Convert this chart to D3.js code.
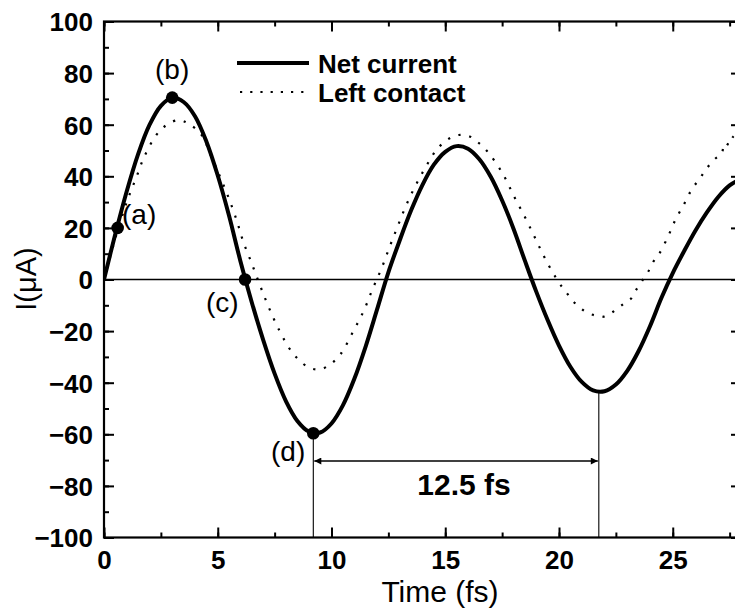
<!DOCTYPE html>
<html>
<head>
<meta charset="utf-8">
<script src="https://cdn.jsdelivr.net/npm/d3@7/dist/d3.min.js"></script>
<style>
  html, body { margin: 0; padding: 0; background: #fff; }
  svg { display: block; }
  text { font-family: "Liberation Sans", Arial, sans-serif; fill: #000; }
</style>
</head>
<body>
<svg id="chart" width="735" height="611"></svg>
<script>
// ---- data ----
const netTime = [0,0.5,1,1.5,2,2.5,3,3.5,4,4.5,5,5.5,6,6.5,7,7.5,8,8.5,9,9.5,10,10.5,11,11.5,12,12.5,13,13.5,14,14.5,15,15.5,16,16.5,17,17.5,18,18.5,19,19.5,20,20.5,21,21.5,22,22.5,23,23.5,24,24.5,25,25.5,26,26.5,27,27.5,28];
const netCurrent = [0,17.7,34.2,48.6,59.9,67.3,70.5,68.8,63.3,53.5,40.3,24.6,7,-9,-23.5,-36.5,-47.2,-54.8,-58.9,-59.3,-55.8,-48.8,-38.6,-26,-11.7,2.8,15.2,26.8,36.7,44.5,49.5,51.7,50.7,46.6,39.8,30.6,19.7,7.3,-4.7,-15.7,-25.6,-33.8,-39.7,-43,-43.3,-40.7,-35.4,-27.7,-18.1,-7.2,2.5,11,19,26,32,36.5,39];

const leftTime = [0,0.5,1.0,1.43,1.77,2.3,2.75,3.27,3.7,4.29,4.7,5.1,5.46,5.83,6.12,6.49,6.85,7.22,7.66,8.17,8.54,9.02,9.52,10.0,10.4,10.95,11.42,11.8,12.2,12.57,12.93,13.32,13.77,14.32,14.64,15.08,15.57,16.04,16.49,16.92,17.54,18.03,18.53,18.97,19.42,19.99,20.33,20.66,21.1,21.56,21.97,22.38,22.82,23.18,23.37,23.67,23.92,24.13,24.4,24.79,25.13,25.48,25.82,26.19,26.55,26.89,27.14,27.29,27.5,27.65,27.9];
const leftContact = [0,16,30,39.8,47.6,56,59.9,61.8,60.5,56,48,39.8,32.1,23,14.7,6.3,-2.1,-10.3,-18.9,-27,-30.9,-34.2,-34.8,-32.5,-28.9,-20.2,-12.1,-3.8,4.3,13,21.1,29.5,37.7,46.3,50.5,54.1,56,55.6,52.8,48.9,40.8,32.1,23.7,15.7,7.6,-1.1,-5.1,-8.8,-12.1,-13.9,-14.4,-12.5,-9.6,-7.3,-4.3,-0.3,3,6.7,9.9,16.6,23.4,28.9,34.7,39.2,43.7,47,48.6,53,52.1,55.3,57];

const markTime = [0.6, 3.0, 6.2, 9.2];
const markValue = [20, 70.5, 0, -59.6];
const markLabels = ["(a)", "(b)", "(c)", "(d)"];

const xTicks = [0, 5, 10, 15, 20, 25];
const yTicks = [-100, -80, -60, -40, -20, 0, 20, 40, 60, 80, 100];
const periodStart = 9.2, periodEnd = 21.75, periodMin = -43.5;
const periodLabel = "12.5 fs";
const seriesNames = ["Net current", "Left contact"];

// ---- layout ----
const svg = d3.select("#chart");
const L = 104, R = 741, T = 21.5, B = 537.5;
const x = d3.scaleLinear().domain([0, 28]).range([L, R]);
const y = d3.scaleLinear().domain([-100, 100]).range([B, T]);

const defs = svg.append("defs");
defs.append("clipPath").attr("id", "clip")
  .append("rect").attr("x", L).attr("y", T).attr("width", R - L).attr("height", B - T);

// zero line
svg.append("line").attr("x1", L).attr("x2", R).attr("y1", y(0)).attr("y2", y(0))
  .attr("stroke", "#000").attr("stroke-width", 1.3);

// period guide lines
svg.append("line").attr("x1", x(periodStart)).attr("x2", x(periodStart))
  .attr("y1", y(markValue[3])).attr("y2", B).attr("stroke", "#000").attr("stroke-width", 1.1);
svg.append("line").attr("x1", x(periodEnd)).attr("x2", x(periodEnd))
  .attr("y1", y(periodMin)).attr("y2", B).attr("stroke", "#000").attr("stroke-width", 1.1);

// double arrow
defs.append("marker").attr("id", "arrowEnd").attr("viewBox", "0 0 10 10")
  .attr("refX", 10).attr("refY", 5).attr("markerWidth", 10).attr("markerHeight", 7)
  .attr("markerUnits", "userSpaceOnUse").attr("orient", "auto")
  .append("path").attr("d", "M0,0 L10,5 L0,10 z").attr("fill", "#000");
defs.append("marker").attr("id", "arrowStart").attr("viewBox", "0 0 10 10")
  .attr("refX", 0).attr("refY", 5).attr("markerWidth", 10).attr("markerHeight", 7)
  .attr("markerUnits", "userSpaceOnUse").attr("orient", "auto")
  .append("path").attr("d", "M10,0 L0,5 L10,10 z").attr("fill", "#000");
const arrowY = 461;
svg.append("line").attr("x1", x(periodStart) + 1).attr("x2", x(periodEnd) - 1)
  .attr("y1", arrowY).attr("y2", arrowY).attr("stroke", "#000").attr("stroke-width", 1.6)
  .attr("marker-start", "url(#arrowStart)").attr("marker-end", "url(#arrowEnd)");
svg.append("text").attr("x", (x(periodStart) + x(periodEnd)) / 2 + 8).attr("y", 495)
  .attr("text-anchor", "middle").attr("font-size", 30).attr("font-weight", "bold").text(periodLabel);

// curves
const g = svg.append("g").attr("clip-path", "url(#clip)");
const line = d3.line().x(d => x(d[0])).y(d => y(d[1])).curve(d3.curveCatmullRom);
g.append("path").datum(leftTime.map((t, i) => [t, leftContact[i]]))
  .attr("d", line).attr("fill", "none").attr("stroke", "#000")
  .attr("stroke-width", 2.2).attr("stroke-dasharray", "2.2,8.8");
g.append("path").datum(netTime.map((t, i) => [t, netCurrent[i]]))
  .attr("d", line).attr("fill", "none").attr("stroke", "#000")
  .attr("stroke-width", 4).attr("stroke-linejoin", "round");

// markers
svg.selectAll("circle.mk").data(markTime).enter().append("circle")
  .attr("class", "mk").attr("cx", d => x(d)).attr("cy", (d, i) => y(markValue[i]))
  .attr("r", 6.3).attr("fill", "#000");

// marker labels
const labelPos = [[122, 224], [155, 79], [206, 312], [271, 461]];
svg.selectAll("text.ml").data(markLabels).enter().append("text")
  .attr("class", "ml").attr("x", (d, i) => labelPos[i][0]).attr("y", (d, i) => labelPos[i][1])
  .attr("font-size", 28).text(d => d);

// frame
svg.append("rect").attr("x", L).attr("y", T).attr("width", R - L).attr("height", B - T)
  .attr("fill", "none").attr("stroke", "#000").attr("stroke-width", 2.2);

// axes (ticks inward)
const xMinor = d3.range(0, 28.01, 2.5);
const yMinor = d3.range(-100, 100.01, 10);
const axB = svg.append("g").attr("transform", `translate(0,${B})`)
  .call(d3.axisBottom(x).tickValues(xMinor).tickSize(-5).tickFormat(""));
const axB2 = svg.append("g").attr("transform", `translate(0,${B})`)
  .call(d3.axisBottom(x).tickValues(xTicks).tickSize(-10).tickFormat(d3.format("d")));
const axT = svg.append("g").attr("transform", `translate(0,${T})`)
  .call(d3.axisTop(x).tickValues(xMinor).tickSize(-5).tickFormat(""));
const axT2 = svg.append("g").attr("transform", `translate(0,${T})`)
  .call(d3.axisTop(x).tickValues(xTicks).tickSize(-10).tickFormat(""));
const axL = svg.append("g").attr("transform", `translate(${L},0)`)
  .call(d3.axisLeft(y).tickValues(yMinor).tickSize(-5).tickFormat(""));
const axL2 = svg.append("g").attr("transform", `translate(${L},0)`)
  .call(d3.axisLeft(y).tickValues(yTicks).tickSize(-10).tickFormat(d3.format("d")));
const axR = svg.append("g").attr("transform", `translate(${R},0)`)
  .call(d3.axisRight(y).tickValues(yMinor).tickSize(-5).tickFormat(""));
const axR2 = svg.append("g").attr("transform", `translate(${R},0)`)
  .call(d3.axisRight(y).tickValues(yTicks).tickSize(-10).tickFormat(""));
[axB, axB2, axT, axT2, axL, axL2, axR, axR2].forEach(a => {
  a.select(".domain").remove();
  a.selectAll(".tick line").attr("stroke", "#000").attr("stroke-width", 2);
  a.selectAll(".tick text").attr("font-family", "'Liberation Sans', Arial, sans-serif")
    .attr("font-size", 26).attr("font-weight", "bold").attr("fill", "#000");
});
axB2.selectAll(".tick text").attr("y", 13).attr("dy", "0.71em");
axL2.selectAll(".tick text").attr("x", -11).attr("dy", "0.36em");

// axis titles
svg.append("text").attr("x", 440).attr("y", 602).attr("text-anchor", "middle")
  .attr("font-size", 30).text("Time (fs)");
svg.append("text").attr("transform", "translate(36,279) rotate(-90)")
  .attr("text-anchor", "middle").attr("font-size", 29).text("I(μA)");

// legend
const lg = svg.append("g");
lg.append("line").attr("x1", 237).attr("x2", 309).attr("y1", 63).attr("y2", 63)
  .attr("stroke", "#000").attr("stroke-width", 4);
lg.append("line").attr("x1", 240).attr("x2", 308).attr("y1", 92).attr("y2", 92)
  .attr("stroke", "#000").attr("stroke-width", 2.2).attr("stroke-dasharray", "2.2,8");
lg.selectAll("text").data(seriesNames).enter().append("text")
  .attr("x", 318).attr("y", (d, i) => 73 + i * 28.5)
  .attr("font-size", 26).attr("font-weight", "bold").text(d => d);
</script>
</body>
</html>
